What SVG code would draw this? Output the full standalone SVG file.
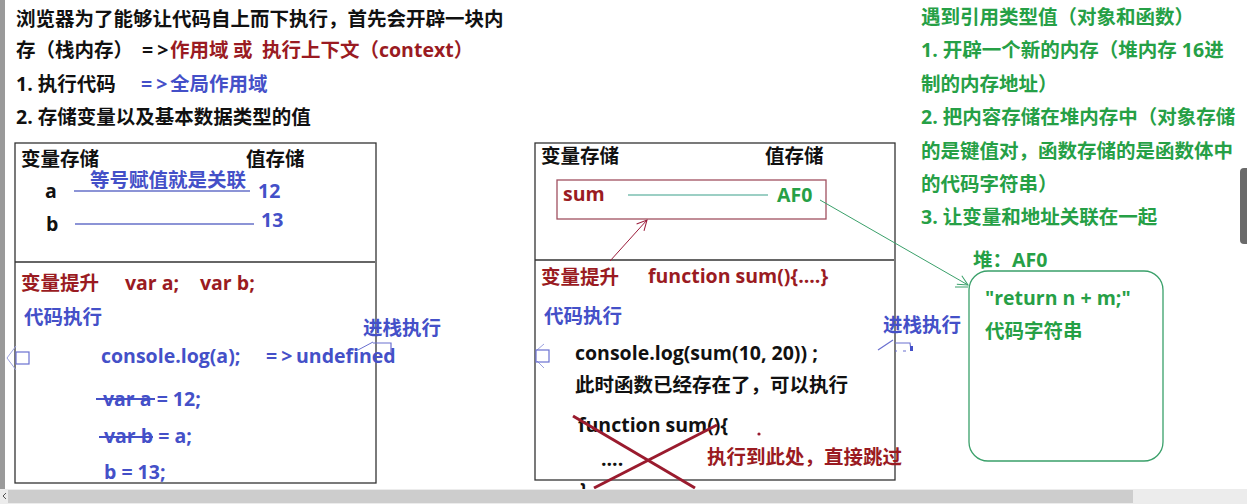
<svg xmlns="http://www.w3.org/2000/svg" width="1247" height="504" viewBox="0 0 1247 504">
<style>
text{font-family:"Open Sans","Noto Sans CJK SC",sans-serif;font-weight:bold;font-size:19.5px;}
.k{fill:#111}
.r{fill:#9a1b22}
.b{fill:#4450c8}
.g{fill:#26a046}
.sp{letter-spacing:4px}
.box{fill:#fff;stroke:#333;stroke-width:1.3}
</style>
<defs>
<marker id="gh" markerWidth="12" markerHeight="12" refX="11" refY="6" orient="auto" markerUnits="userSpaceOnUse"><path d="M1,1 L11,6 L1,11" fill="none" stroke="#3aa06a" stroke-width="1"/></marker>
<marker id="rh" markerWidth="12" markerHeight="12" refX="11" refY="6" orient="auto" markerUnits="userSpaceOnUse"><path d="M1,1 L11,6 L1,11" fill="none" stroke="#9a1b3a" stroke-width="1"/></marker>
</defs>
<rect width="1247" height="504" fill="#fff"/>
<rect x="0" y="0" width="5" height="489" fill="#9a9a9a"/>
<rect x="1240" y="168" width="10" height="76" rx="4" fill="#6a6a6a"/>

<g id="intro">
<text x="16" y="26" class="k">浏览器为了能够让代码自上而下执行，首先会开辟一块内</text>
<text x="16" y="57" class="k">存（栈内存）</text>
<text x="142" y="57" class="k sp">=&gt;</text>
<text x="170" y="57" class="r">作用域</text>
<text x="233" y="57" class="r">或</text>
<text x="262" y="57" class="r">执行上下文（context）</text>
<text x="16" y="91" class="k">1. 执行代码</text>
<text x="141" y="91" class="b sp">=&gt;</text>
<text x="170" y="91" class="b">全局作用域</text>
<text x="16" y="124" class="k">2. 存储变量以及基本数据类型的值</text>
</g>

<g id="heap-notes">
<text x="921" y="24" class="g">遇到引用类型值（对象和函数）</text>
<text x="921" y="57" class="g">1. 开辟一个新的内存（堆内存  16进</text>
<text x="921" y="91" class="g">制的内存地址）</text>
<text x="921" y="124" class="g">2. 把内容存储在堆内存中（对象存储</text>
<text x="921" y="158" class="g">的是键值对，函数存储的是函数体中</text>
<text x="921" y="191" class="g">的代码字符串）</text>
<text x="921" y="224" class="g">3. 让变量和地址关联在一起</text>
</g>

<g id="left-scope">
<rect class="box" x="15" y="143" width="361" height="340"/>
<line x1="15" y1="262" x2="375" y2="262" stroke="#333" stroke-width="1.3"/>
<text x="21" y="166" class="k">变量存储</text>
<text x="246" y="166" class="k">值存储</text>
<text x="45" y="198" class="k">a</text>
<text x="46" y="231" class="k">b</text>
<line x1="74" y1="191" x2="250" y2="191" stroke="#6670c8" stroke-width="1.5"/>
<line x1="75" y1="224" x2="254" y2="224" stroke="#6670c8" stroke-width="1.5"/>
<text x="90" y="187" class="b">等号赋值就是关联</text>
<text x="258" y="198" class="b">12</text>
<text x="261" y="227" class="b">13</text>
<text x="21" y="290" class="r">变量提升</text>
<text x="125" y="290" class="r">var a;</text>
<text x="200" y="290" class="r">var b;</text>
<text x="24" y="324" class="b">代码执行</text>
<text x="101" y="363" class="b">console.log(a);</text>
<text x="266" y="363" class="b sp">=&gt;</text>
<text x="296" y="363" class="b">undefined</text>
<text x="103" y="406" class="b">var a = 12;</text>
<line x1="96" y1="399" x2="155" y2="399" stroke="#4450c8" stroke-width="2"/>
<text x="104" y="443" class="b">var b = a;</text>
<line x1="99" y1="437" x2="153" y2="437" stroke="#4450c8" stroke-width="2"/>
<text x="104" y="479" class="b">b = 13;</text>
<path d="M16,346 L7,358 L16,370" fill="none" stroke="#9aa0e0" stroke-width="1"/>
<rect x="16" y="352" width="13" height="12" fill="none" stroke="#6a70d0" stroke-width="1.2"/>
</g>

<g id="right-scope">
<rect class="box" x="535" y="143" width="360" height="337"/>
<line x1="535" y1="260" x2="894" y2="260" stroke="#333" stroke-width="1.3"/>
<text x="541" y="163" class="k">变量存储</text>
<text x="765" y="163" class="k">值存储</text>
<rect x="557" y="180" width="269" height="39" fill="none" stroke="#a05060" stroke-width="1.3"/>
<text x="563" y="201" class="r">sum</text>
<line x1="628" y1="195" x2="768" y2="195" stroke="#3aa08a" stroke-width="1.2"/>
<text x="777" y="202" class="g">AF0</text>
<text x="541" y="284" class="r">变量提升</text>
<text x="648" y="283" class="r">function sum(){....}</text>
<text x="544" y="323" class="b">代码执行</text>
<text x="575" y="360" class="k">console.log(sum(10, 20)) ;</text>
<text x="575" y="392" class="k">此时函数已经存在了，可以执行</text>
<text x="578" y="432" class="k">function sum(){</text>
<text x="601" y="466" class="k">....</text>
<text x="580" y="497" class="k">}</text>
<line x1="573" y1="416" x2="695" y2="488" stroke="#9a1b2e" stroke-width="3"/>
<line x1="594" y1="488" x2="717" y2="425" stroke="#9a1b2e" stroke-width="3"/>
<circle cx="759" cy="434" r="1.6" fill="#9a1b2e"/>
<text x="707" y="464" class="r">执行到此处，直接跳过</text>
<path d="M544,344 L537,350 M544,368 L537,361" fill="none" stroke="#9aa0e0" stroke-width="1"/>
<rect x="536" y="350" width="13" height="12" fill="none" stroke="#6a70d0" stroke-width="1.2"/>
</g>

<g id="heap">
<text x="973" y="267" class="g">堆：AF0</text>
<rect x="969" y="271" width="194" height="190" rx="19" fill="none" stroke="#3aa06a" stroke-width="1.3"/>
<text x="985" y="305" class="g">"return n + m;"</text>
<text x="985" y="338" class="g">代码字符串</text>
</g>

<g id="push-labels">
<text x="363" y="335" class="b">进栈执行</text>
<path d="M358,350 L373,342" stroke="#6a70d0" stroke-width="1" fill="none"/>
<path d="M373,343 L391,343 L391,353" stroke="#6a70d0" stroke-width="1.2" fill="none"/>
<text x="883" y="332" class="b">进栈执行</text>
<path d="M878,350 L893,340 M895,343 L910,343 L911,350 M895,351 L897,351 M903,351 L906,351" stroke="#6a70d0" stroke-width="1.2" fill="none"/>
<rect x="910" y="346" width="3" height="5" fill="#4450c8"/>
</g>

<g id="connectors">
<line x1="610" y1="261" x2="647" y2="220" stroke="#9a1b3a" stroke-width="1" marker-end="url(#rh)"/>
<line x1="820" y1="200" x2="968" y2="285" stroke="#3aa06a" stroke-width="1" marker-end="url(#gh)"/>
<line x1="955" y1="287" x2="968" y2="287" stroke="#3aa06a" stroke-width="1"/>
</g>

<g id="scrollbar">
<rect x="0" y="489" width="1247" height="15" fill="#ececec"/>
<rect x="8" y="490" width="1125" height="13" fill="#cdcdcd"/>
<path d="M6,493 L3,496 L6,499" fill="none" stroke="#555" stroke-width="1"/>
</g>
</svg>
